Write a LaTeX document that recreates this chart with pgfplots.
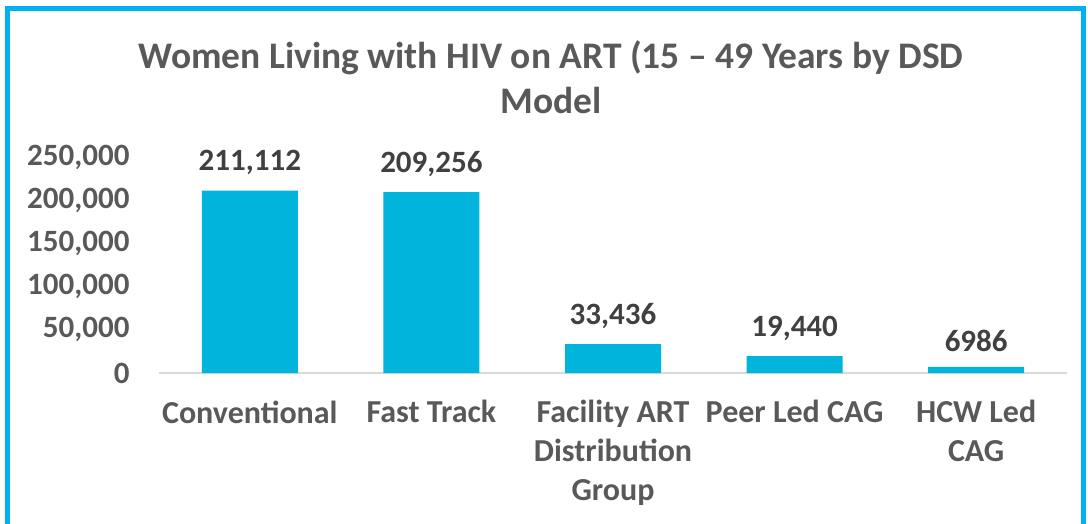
\documentclass[border=0pt]{standalone}
\usepackage{pgfplots}
\pgfplotsset{compat=1.18}
\usepackage{fontspec}
\setmainfont{Carlito}
\definecolor{barc}{HTML}{00B4DC}
\definecolor{framec}{HTML}{00B0F0}
\definecolor{txt}{HTML}{595959}
\definecolor{lbl}{HTML}{404040}
\begin{document}
\begin{tikzpicture}[x=1pt,y=1pt]
\useasboundingbox (0,0) rectangle (1088,523);
\draw[framec, line width=5pt] (7.5,-10) -- (7.5,514.5) -- (1083.5,514.5) -- (1083.5,-10);
\node[txt, font=\fontsize{37.5}{45}\selectfont\bfseries, align=center] at (551,445.5)
  {Women Living with HIV on ART (15 – 49 Years by DSD\\Model};
\begin{axis}[
  at={(159pt,150pt)}, anchor=south west,
  scale only axis, width=908pt, height=216pt,
  xmin=-0.5, xmax=4.5, ymin=0, ymax=250000,
  axis x line*=bottom, axis y line*=left,
  y axis line style={draw=none},
  x axis line style={draw=gray!30, line width=2pt, -},
  xtick=data, major tick length=0pt,
  xticklabels={Conventional, Fast Track, {Facility ART\\Distribution\\Group}, Peer Led CAG, {HCW Led\\CAG}},
  xticklabel style={txt, font=\fontsize{32}{39}\selectfont\bfseries, align=center, anchor=north, yshift=-24pt},
  ytick={0,50000,100000,150000,200000,250000},
  scaled y ticks=false,
  yticklabel style={txt, font=\fontsize{31}{33}\selectfont\bfseries, anchor=east, xshift=-26pt},
  /pgf/number format/.cd, fixed, 1000 sep={,}, assume math mode=true, /pgfplots/.cd,
  ybar, bar width=96pt,
  point meta=explicit symbolic,
  nodes near coords,
  nodes near coords style={lbl, font=\fontsize{31}{33}\selectfont\bfseries, anchor=south, yshift=12pt},
  clip=false,
]
\addplot[fill=barc, draw=none] coordinates {(0,211112)[211,112] (1,209256)[209,256] (2,33436)[33,436] (3,19440)[19,440] (4,6986)[6986]};
\end{axis}
\end{tikzpicture}
\end{document}
